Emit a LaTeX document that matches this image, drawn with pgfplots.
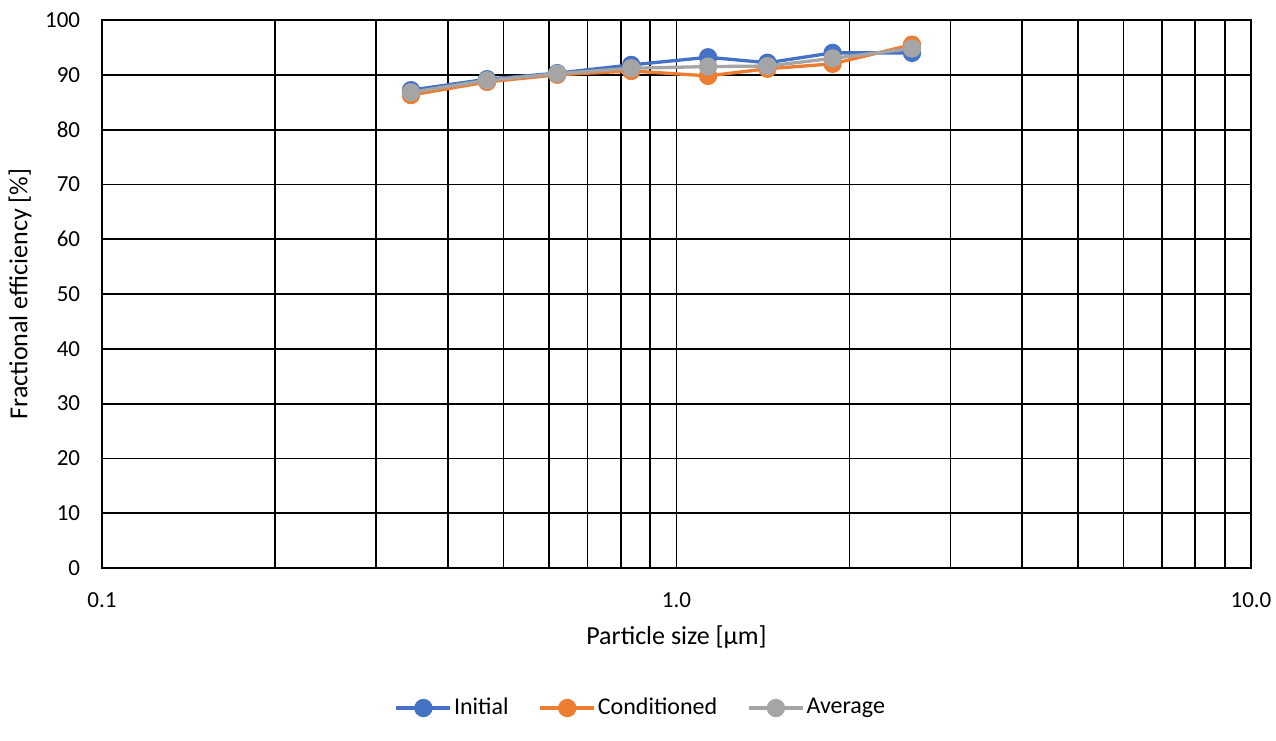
\documentclass[border=0pt]{standalone}
\usepackage{pgfplots}
\pgfplotsset{compat=1.18}
\usepackage{fontspec}
\setmainfont{Carlito}
\definecolor{cblue}{HTML}{4472C4}
\definecolor{corange}{HTML}{ED7D31}
\definecolor{cgray}{HTML}{A5A5A5}
\begin{document}
\fontsize{23pt}{27pt}\selectfont
\begin{tikzpicture}
\path[use as bounding box] (-102pt,-172pt) rectangle (1174pt,568pt);
\begin{axis}[
  at={(0,0)}, anchor=south west,
  scale only axis, width=1149pt, height=548pt,
  xmode=log, xmin=0.1, xmax=10, ymin=0, ymax=100,
  xtick={0.1,1,10}, xticklabels={0.1,1.0,10.0},
  minor xtick={0.2,0.3,0.4,0.5,0.6,0.7,0.8,0.9,2,3,4,5,6,7,8,9},
  ytick={0,10,...,100},
  grid=both,
  major grid style={black, line width=1.8pt},
  minor grid style={black, line width=1.8pt},
  axis line style={black, line width=1.8pt},
  major tick length=0pt, minor tick length=0pt,
  /pgf/number format/assume math mode=true,
  ticklabel style={font=\fontsize{23pt}{27pt}\selectfont},
  yticklabel style={xshift=-14pt},
  xticklabel style={yshift=-17pt},
  xlabel={Particle size [µm]},
  ylabel={Fractional efficiency [\%]},
  label style={font=\fontsize{26pt}{30pt}\selectfont},
  xlabel style={at={(axis description cs:0.5,-0.126)}, anchor=center},
  ylabel style={at={(axis description cs:-0.0714,0.5)}, anchor=center},
  legend columns=3,
  legend style={at={(axis description cs:0.469,-0.2555)}, anchor=center, draw=none,
    font=\fontsize{24pt}{28pt}\selectfont,
    /tikz/every even column/.append style={column sep=28pt}},
  legend image code/.code={\draw[#1, mark repeat=2, mark phase=2] plot coordinates {(0pt,0pt) (27pt,0pt) (54pt,0pt)};},
  every axis plot/.append style={line width=3.3pt, mark=*, mark size=7.5pt},
]
\addplot[cblue, mark options={fill=cblue}] coordinates {
(0.345,87.2) (0.468,89.2) (0.620,90.3) (0.834,91.8) (1.135,93.2) (1.44,92.2) (1.87,94.0) (2.57,94.0)};
\addlegendentry{Initial}
\addplot[corange, mark options={fill=corange}] coordinates {
(0.345,86.3) (0.468,88.7) (0.620,90.0) (0.834,90.7) (1.135,89.8) (1.44,91.1) (1.87,92.0) (2.57,95.5)};
\addlegendentry{Conditioned}
\addplot[cgray, mark options={fill=cgray}] coordinates {
(0.345,86.8) (0.468,89.0) (0.620,90.2) (0.834,91.2) (1.135,91.5) (1.44,91.6) (1.87,93.0) (2.57,94.8)};
\addlegendentry{Average}
\end{axis}
\end{tikzpicture}
\end{document}
